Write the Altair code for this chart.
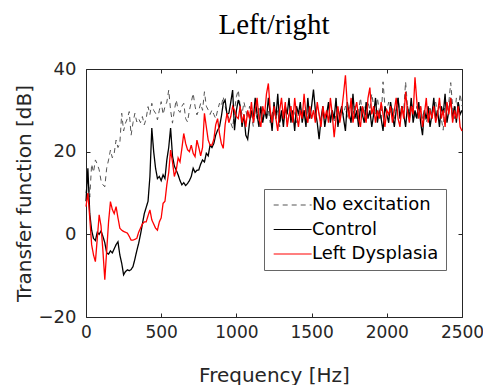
import altair as alt
import pandas as pd

# frequency grid [Hz]
freq = [i * 12.5 for i in range(201)]

series_names = ["No excitation", "Control", "Left Dysplasia"]
series_colors = ["#555555", "#000000", "#ff0000"]
series_dashes = [[5, 4], [1, 0], [1, 0]]

# ---- values [dB] ----
no_exc_low = [10, 14, 9, 17, 15, 18, 17, 15.6, 13, 12,
              11.5, 16, 18, 20.4, 18.5, 19.6, 22.8, 21, 22, 29.3,
              25, 26.9, 28, 29.7, 24, 27, 29.3, 27.2, 28, 27,
              28.5, 26.5, 28, 30.9, 29, 31.7, 30, 29.3, 27.7, 30,
              32.1, 29, 30.9, 32, 34.9, 30, 26.9, 30, 32.5, 30.1,
              29.5, 31, 31.7, 28, 27.2, 30, 32, 34.1, 31, 28.9,
              30, 31.7, 30, 34.5, 31, 30.1, 29, 30.1, 29, 28,
              30, 31.7, 31, 33.3, 31, 29.3, 28, 27, 25.7, 30,
              33.3]
no_exc_high = [34.9, 31, 29, 32, 30, 28, 31, 29,
               26, 30, 28, 31, 29, 27, 30, 28,
               30, 27, 29, 31, 28, 30, 26, 29,
               28, 30, 27, 29, 31, 28, 30, 27,
               29, 31, 28, 30, 27, 29, 31, 28,
               30, 28, 31, 29, 27, 30, 28, 29,
               31, 28, 30, 27, 29, 31, 28, 30,
               29, 31, 28, 30, 32, 29, 31, 28,
               30, 33, 29, 31, 28, 32, 30, 34,
               31, 29, 33, 30, 28, 36.9, 31, 30,
               32, 29, 31, 28, 30, 33, 29, 31,
               30, 36.9, 31, 29, 32, 30, 28, 31,
               29, 31, 28, 30, 27, 29, 31, 28,
               30, 32, 29, 31, 28, 25.2, 33, 30,
               32, 36.7, 31, 28, 33, 30, 34, 31]

control_low = [8, 16, 5, 1, -1, -1.5, 0.5, 0, 0.8, -0.5,
               -2, -4.5, -4.8, -4, -4.5, -3.5, -2.5, -1.8, -5, -7,
               -9.8, -9, -8.6, -8.8, -8.5, -7.8, -6, -4, -2.2, 0,
               2.5, 5, 6.5, 8, 14, 25.7, 20, 16, 13.5, 14,
               13, 14.4, 13.5, 18, 21, 25.7, 19, 16.5, 15.5, 14.4,
               13, 12, 12.5, 11.8, 12.3, 13, 14, 16, 15, 15.5,
               15.6, 17, 18, 17.5, 19.6, 19, 21.6, 21, 22, 24,
               25.2, 26, 28.5, 31.7, 32.5, 29, 29.3, 32, 34.9, 25.2,
               30]
control_high = [32.5, 31, 26, 29, 24, 23, 27, 30,
                28, 33, 29, 26, 31, 27, 30, 28,
                33, 29, 25, 32, 28, 34, 27, 30,
                26, 31, 29, 33, 27, 30, 25, 31,
                29, 32, 27, 30, 26, 33, 28, 31,
                35, 30, 27, 23, 28, 31, 26, 29,
                32, 27, 30, 28, 33, 26, 29, 31,
                28, 25, 32, 29, 27, 34, 28, 30,
                26, 31, 29, 27, 32, 28, 30, 26,
                29, 33, 27, 30, 28, 25, 31, 29,
                27, 32, 29, 26, 30, 33, 28, 31,
                29, 26, 31, 28, 33, 27, 30, 28,
                32, 27, 24, 30, 28, 31, 26, 29,
                33, 28, 30, 26, 31, 29, 34, 27,
                30, 33, 28, 31, 27, 32, 29, 30]

dysplasia_low = [6.7, 10, 4, -2.5, -5, -6.6, -1, 4.7, 2, -4,
                 -11, -4, 3, 7.9, 6, 5, 6.7, 4, 1.5, 1,
                 0.7, 0.5, 0.3, -0.5, -1.4, -1.4, -1.2, -1, 0.5, 1.5,
                 2.5, 3, 3, 4.5, 5.9, 3.5, 2.5, 1.5, 1, 3,
                 4, 7.5, 8, 12, 15, 20.4, 17.5, 14, 15.5, 18.5,
                 17.5, 20.8, 24.4, 22, 20.5, 20, 21.6, 19.6, 18.8, 22.8,
                 21, 19, 21, 29.3, 26, 22.8, 21.6, 21.6, 23, 26.5,
                 28, 24.4, 22, 20.8, 26.5, 29.3, 27, 28.5, 30.9, 30,
                 28.5]
dysplasia_high = [28, 31, 27, 29, 26, 30, 28, 32,
                  27, 30, 33, 28, 26, 31, 29, 34,
                  36.5, 30, 27, 31, 28, 25, 30, 33,
                  28, 32, 26, 29, 31, 27, 33, 29,
                  26, 30, 28, 34, 29, 27, 31, 28,
                  30, 27, 32, 29, 26, 31, 28, 30,
                  27, 33, 29, 23.5, 28, 31, 27, 30,
                  34, 38.5, 31, 28, 33, 27, 30, 32,
                  28, 26, 31, 29, 27, 33, 35.5, 29,
                  31, 27, 30, 28, 32, 29, 26, 30,
                  29, 31, 27, 30, 33, 28, 26, 31,
                  28, 34.5, 30, 27, 31, 29, 38, 32,
                  28, 31, 26, 29, 33, 27, 30, 28,
                  31, 27, 29, 33, 28, 30, 26, 32,
                  29, 33, 27, 30, 28, 31, 26, 25]

x_ticks = [0, 500, 1000, 1500, 2000, 2500]
y_ticks = [-20, 0, 20, 40]

values = {
    "No excitation": no_exc_low + no_exc_high,
    "Control": control_low + control_high,
    "Left Dysplasia": dysplasia_low + dysplasia_high,
}

rows = []
for name in series_names:
    for f, v in zip(freq, values[name]):
        rows.append({"freq": f, "db": v, "series": name})
df = pd.DataFrame(rows)

AX = "#262626"
FONT = "DejaVu Sans"

leg = alt.Legend(
    orient="none", legendX=178, legendY=120,
    symbolType="M-1,0H5", symbolSize=160, symbolStrokeWidth=1.2,
    labelFont=FONT, labelFontSize=18, labelColor="black", labelOffset=23,
    labelLimit=300, padding=7, rowPadding=6.5,
    strokeColor="#666666", fillColor="white",
)

color = alt.Color("series:N", title=None,
                  scale=alt.Scale(domain=series_names, range=series_colors),
                  legend=leg)
dash = alt.StrokeDash("series:N", title=None,
                      scale=alt.Scale(domain=series_names, range=series_dashes),
                      legend=leg)

xscale = alt.Scale(domain=[0, 2500], nice=False, zero=False)
yscale = alt.Scale(domain=[-20, 40], nice=False, zero=False)

x_main = alt.X("freq:Q", scale=xscale, axis=alt.Axis(
    orient="bottom", values=x_ticks, format="d", labelFlush=False,
    labelOverlap=False, title="Frequency [Hz]", grid=False,
    domain=False, tickSize=4, offset=-4, tickColor=AX, labelColor=AX,
    labelFont=FONT, labelFontSize=17, labelPadding=7, titleFont=FONT,
    titleFontSize=20, titleFontWeight="normal", titleColor=AX, titlePadding=25))
y_main = alt.Y("db:Q", scale=yscale, axis=alt.Axis(
    orient="left", values=y_ticks, format="d", labelFlush=False,
    labelOverlap=False, title="Transfer function [dB]", grid=False,
    domain=False, tickSize=4, offset=-4, tickColor=AX, labelColor=AX,
    labelFont=FONT, labelFontSize=18, labelPadding=10, titleFont=FONT,
    titleFontSize=20, titleFontWeight="normal", titleColor=AX, titlePadding=4))

x_top = alt.X("freq:Q", scale=xscale, axis=alt.Axis(
    orient="top", values=x_ticks, title=None, grid=False, labels=False,
    domain=False, tickSize=4, offset=-4, tickColor=AX))
y_right = alt.Y("db:Q", scale=yscale, axis=alt.Axis(
    orient="right", values=y_ticks, title=None, grid=False, labels=False,
    domain=False, tickSize=4, offset=-4, tickColor=AX))

base = alt.Chart(df)

gray = base.transform_filter(alt.datum.series == "No excitation").mark_line(
    strokeWidth=1).encode(x=x_main, y=y_main, color=color, strokeDash=dash)
black = base.transform_filter(alt.datum.series == "Control").mark_line(
    strokeWidth=1.3).encode(x=x_top, y=y_right, color=color, strokeDash=dash)
red = base.transform_filter(alt.datum.series == "Left Dysplasia").mark_line(
    strokeWidth=1.3).encode(
        x=alt.X("freq:Q", scale=xscale, axis=None),
        y=alt.Y("db:Q", scale=yscale, axis=None),
        color=color, strokeDash=dash)

chart = alt.layer(gray, black, red).resolve_axis(
    x="independent", y="independent"
).properties(
    width=376, height=248,
    title=alt.TitleParams("Left/right", font="Liberation Serif", fontSize=29,
                          fontWeight="normal", color="black", anchor="middle",
                          baseline="alphabetic", offset=-3),
    padding={"left": 78, "top": 61, "right": 21, "bottom": 68},
    autosize=alt.AutoSizeParams(type="none"),
).configure_view(stroke=AX, strokeWidth=1)

chart.save("out.html", embed_options={"renderer": "svg", "actions": False})
